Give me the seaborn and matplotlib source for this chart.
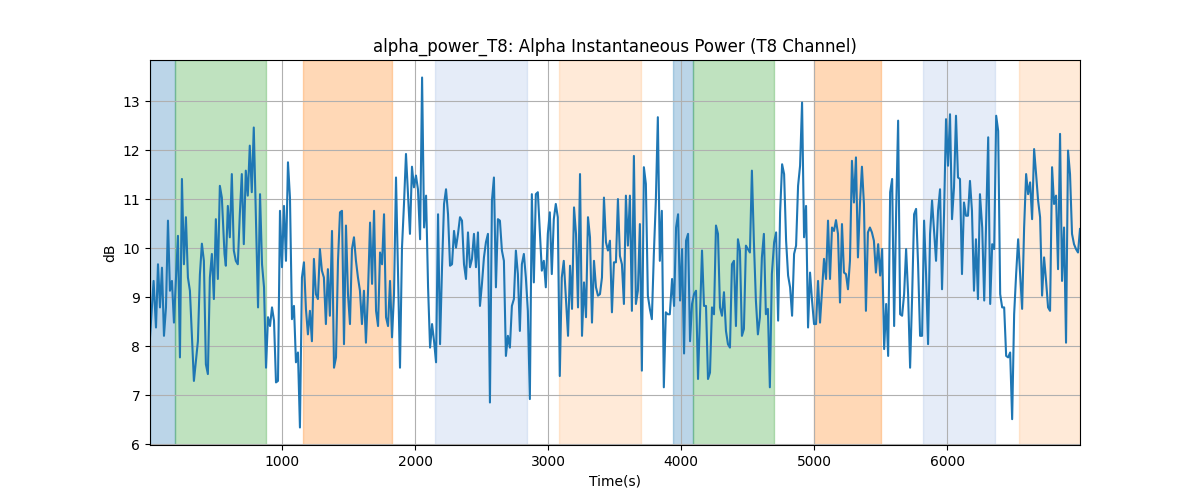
import matplotlib
matplotlib.use("Agg")
import matplotlib.pyplot as plt
import seaborn as sns
import pandas as pd

title = "alpha_power_T8: Alpha Instantaneous Power (T8 Channel)"
x_label = "Time(s)"
y_label = "dB"

times = [
    8, 35, 53, 68, 83, 98, 113, 128, 143, 158, 173, 188, 218, 233, 248, 263, 278, 293, 308, 338,
    368, 383, 398, 413, 428, 443, 458, 473, 488, 503, 518, 533, 548, 568, 578, 593, 608, 623, 638, 653,
    668, 683, 698, 713, 728, 743, 758, 773, 788,
    820, 835, 850, 865, 880, 895, 910, 925, 940, 955, 970, 985, 1000, 1015, 1030, 1045, 1060, 1075, 1090, 1105,
    1120, 1135, 1150, 1165, 1180, 1195, 1210, 1225, 1240, 1255, 1270, 1285, 1300, 1315, 1330, 1345, 1360, 1376, 1391, 1406,
    1421, 1436, 1451, 1466, 1481, 1496, 1511, 1526, 1541, 1556,
    1571, 1586, 1601, 1616, 1631, 1646, 1662, 1677, 1692, 1707, 1722, 1737, 1752, 1767, 1782, 1797, 1812, 1827, 1842, 1857,
    1872, 1887, 1902, 1917, 1932, 1947, 1962, 1977, 1992, 2007, 2022, 2038, 2053, 2068, 2083, 2098, 2113, 2128, 2143, 2158,
    2173, 2188, 2203, 2218, 2233, 2248, 2263, 2278, 2293, 2308, 2323, 2338,
    2353, 2368, 2383, 2398, 2413, 2428, 2443, 2458, 2473, 2488, 2503, 2518, 2533, 2548, 2563, 2578, 2593, 2608, 2623, 2638,
    2653, 2668, 2683, 2698, 2713, 2728, 2743, 2758, 2773, 2788, 2803, 2818, 2833, 2848, 2863, 2878, 2893, 2908, 2923, 2938,
    2953, 2968, 2983, 2998, 3013, 3028, 3043, 3058, 3073, 3088, 3103, 3118,
    3135, 3150, 3165, 3180, 3195, 3210, 3225, 3240, 3255, 3270, 3285, 3300, 3315, 3330, 3345, 3360, 3375, 3390, 3405, 3420,
    3435, 3450, 3465, 3480, 3495, 3510, 3525, 3540, 3555, 3570, 3585, 3600, 3615, 3630, 3645, 3660, 3675, 3690, 3705, 3720,
    3735, 3750, 3765, 3780, 3795, 3810, 3825, 3840, 3855, 3870, 3885, 3900, 3915,
    3932, 3947, 3962, 3977, 3992, 4007, 4022, 4037, 4052, 4067, 4082, 4097, 4112, 4127, 4142, 4157, 4172, 4187, 4202, 4217,
    4232, 4247, 4262, 4277, 4292, 4307, 4322, 4337, 4352, 4367, 4382, 4397, 4412, 4427, 4442, 4457, 4472, 4487, 4502, 4517,
    4532, 4547, 4562, 4577, 4592, 4607, 4622, 4637, 4652, 4667, 4682,
    4699, 4714, 4729, 4744, 4759, 4774, 4789, 4804, 4819, 4834, 4849, 4864, 4879, 4894, 4909, 4924, 4939, 4954, 4969, 4984,
    4999, 5014, 5029, 5044, 5059, 5074, 5089, 5104, 5119, 5134, 5149, 5164, 5179, 5194, 5209, 5224, 5239, 5254, 5269, 5284,
    5299, 5314, 5329, 5344, 5359, 5374, 5389, 5404, 5419, 5434, 5449, 5464,
    5481, 5496, 5511, 5526, 5541, 5556, 5571, 5586, 5601, 5616, 5631, 5646, 5661, 5676, 5691, 5706, 5721, 5736, 5751, 5766,
    5781, 5796, 5811, 5826, 5841, 5856, 5871, 5886, 5901, 5916, 5931, 5946, 5961, 5976, 5991, 6006, 6021, 6036, 6051, 6066,
    6081, 6096, 6111, 6126, 6141, 6156, 6171, 6186, 6201, 6216, 6231, 6246,
    6263, 6278, 6293, 6308, 6323, 6338, 6353, 6368, 6383, 6398, 6413, 6428, 6443, 6458, 6473, 6488, 6503, 6518, 6533, 6548,
    6563, 6578, 6593, 6608, 6623, 6638, 6653, 6668, 6683, 6698, 6713, 6728, 6743, 6758, 6773, 6788, 6803, 6818, 6833, 6848,
    6863, 6878, 6893, 6908, 6923, 6938, 6953, 6968, 6983, 6998,
]

power_db = [
    8.18, 9.33, 8.38, 9.67, 8.79, 9.6, 8.21, 8.79, 10.56, 9.13, 9.33, 8.48, 10.25, 7.77, 11.41, 9.67, 10.63, 9.4, 9.13, 7.29,
    8.1, 9.46, 10.09, 9.74, 7.63, 7.43, 9.4, 9.88, 8.96, 10.59, 9.37, 11.27, 11.03, 9.88, 9.64, 10.86, 10.22, 11.51, 9.95, 9.74,
    9.67, 10.69, 11.51, 10.08, 11.58, 11.07, 12.09, 11.14, 12.46,
    8.79, 11.1, 9.67, 9.2, 7.56, 8.59, 8.41, 8.79, 8.52, 7.26, 7.29, 10.76, 9.61, 10.86, 9.74, 11.75, 11.03, 8.55, 8.82, 7.67,
    7.87, 6.34, 9.4, 9.71, 8.76, 8.24, 8.72, 8.1, 9.78, 9.06, 8.96, 9.98, 9.54, 9.4, 8.45, 9.57, 8.62, 10.35, 7.56, 7.77,
    9.74, 10.73, 10.76, 8.04, 10.46, 9.06, 8.45, 9.98, 10.22, 9.74,
    9.4, 9.13, 8.45, 9.13, 8.07, 9.06, 10.52, 9.27, 10.76, 8.72, 8.41, 9.91, 9.67, 10.69, 8.59, 8.41, 9.33, 8.18, 9.06, 11.44,
    9.47, 7.56, 10.01, 10.9, 11.92, 11.1, 10.29, 11.66, 11.24, 11.48, 11.2, 10.18, 13.48, 10.42, 11.07, 9.2, 7.97, 8.45, 8.1, 7.67,
    10.69, 8.04, 9.61, 10.9, 11.2, 10.69, 9.64, 9.67, 10.35, 10.01, 10.29, 10.63,
    10.56, 9.67, 9.37, 10.32, 9.61, 9.78, 10.29, 9.61, 10.32, 8.82, 9.27, 9.81, 10.12, 10.29, 6.85, 10.97, 11.44, 9.2, 10.59, 10.56,
    9.95, 9.74, 7.8, 8.21, 7.97, 8.82, 8.96, 9.95, 9.47, 8.31, 9.67, 9.88, 9.4, 8.72, 6.92, 11.1, 9.3, 11.1, 11.14, 10.35,
    9.54, 9.74, 9.2, 10.29, 10.73, 9.47, 10.59, 10.9, 10.63, 7.39, 9.4, 9.74,
    8.93, 8.21, 9.64, 8.76, 10.83, 10.29, 8.79, 11.51, 8.21, 9.3, 8.59, 10.63, 10.22, 8.48, 9.74, 9.2, 9.03, 9.06, 9.4, 11.03,
    10.12, 9.95, 10.15, 8.69, 9.71, 9.71, 11.0, 9.84, 9.67, 8.86, 11.07, 10.05, 11.07, 8.72, 11.88, 8.86, 9.13, 10.49, 7.5, 11.65,
    11.31, 9.03, 8.76, 8.55, 9.88, 10.97, 12.67, 9.74, 10.76, 7.16, 8.69, 8.65, 8.65,
    9.37, 8.82, 10.42, 10.69, 8.93, 9.98, 7.85, 10.15, 10.29, 8.1, 8.86, 9.06, 9.13, 7.33, 8.65, 9.95, 8.82, 8.82, 7.33, 7.46,
    8.79, 8.65, 10.46, 10.29, 8.79, 8.62, 9.1, 8.31, 8.04, 7.97, 9.67, 9.74, 8.41, 10.18, 9.95, 8.21, 8.35, 10.05, 9.98, 9.91,
    11.58, 10.12, 8.93, 8.24, 8.59, 9.81, 10.29, 8.65, 8.76, 7.16, 9.47,
    10.12, 10.32, 8.52, 10.73, 11.71, 11.51, 10.15, 9.44, 9.2, 8.62, 9.88, 10.05, 11.27, 11.68, 12.97, 10.22, 10.86, 8.38, 9.5, 8.93,
    8.45, 8.45, 9.33, 8.48, 9.13, 9.78, 9.37, 10.56, 9.37, 10.42, 10.35, 10.57, 10.29, 8.89, 10.49, 9.5, 9.47, 9.16, 9.74, 11.78,
    10.93, 11.85, 9.81, 10.9, 11.66, 10.9, 8.72, 10.32, 10.42, 10.32, 10.15, 9.5,
    10.08, 9.44, 9.98, 7.94, 8.86, 7.8, 11.14, 11.41, 8.41, 10.73, 12.6, 8.65, 8.62, 9.06, 9.98, 9.06, 7.56, 8.99, 10.69, 10.8,
    9.67, 8.21, 8.21, 10.56, 9.47, 8.04, 10.29, 10.97, 10.35, 9.74, 10.76, 11.2, 9.16, 10.69, 12.63, 11.68, 12.73, 10.59, 11.24, 12.7,
    11.44, 11.41, 9.47, 10.93, 10.66, 10.66, 11.37, 10.76, 9.13, 10.18, 8.96, 11.1,
    10.42, 8.93, 10.56, 12.26, 8.86, 10.08, 9.98, 12.7, 12.39, 9.06, 8.79, 8.79, 7.8, 7.77, 7.87, 6.51, 8.65, 9.47, 10.18, 9.47,
    8.76, 10.42, 11.51, 11.1, 11.34, 10.59, 12.02, 11.51, 10.97, 10.63, 9.03, 9.81, 9.33, 8.79, 8.72, 11.65, 10.9, 11.07, 9.57, 12.33,
    9.33, 10.42, 8.07, 11.99, 11.51, 10.29, 10.08, 9.98, 9.91, 10.39,
]

# shaded intervals (start, end, color, alpha)
span_starts = [8, 193, 1158, 2150, 3083, 3937, 4093, 5000, 5820, 6542]
span_ends = [193, 877, 1830, 2840, 3697, 4093, 4697, 5502, 6359, 6998]
span_colors = ["#1f77b4", "#2ca02c", "#ff7f0e", "#4a7fd0", "#ff9a3c", "#1f77b4", "#2ca02c", "#ff7f0e", "#4a7fd0", "#ff9a3c"]
span_alphas = [0.3, 0.3, 0.3, 0.14, 0.2, 0.3, 0.3, 0.3, 0.14, 0.2]

df = pd.DataFrame({"time": times, "power": power_db})

fig, ax = plt.subplots(figsize=(12, 5), dpi=100)
for s, e, c, a in zip(span_starts, span_ends, span_colors, span_alphas):
    ax.axvspan(s, e, color=c, alpha=a, zorder=0)

sns.lineplot(data=df, x="time", y="power", ax=ax, color="#1f77b4", linewidth=1.5,
             estimator=None, sort=False)

ax.set_xlim(min(times), max(times))
ax.grid(True)
ax.set_title(title)
ax.set_xlabel(x_label)
ax.set_ylabel(y_label)

fig.savefig("out.png", dpi=100)
